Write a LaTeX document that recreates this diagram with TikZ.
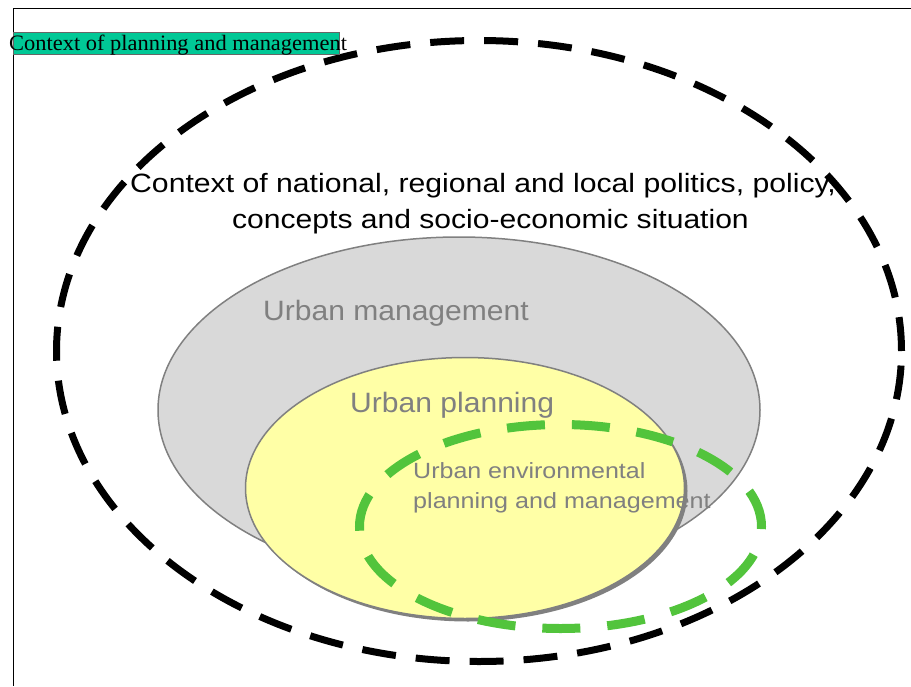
\documentclass[tikz,border=0pt]{standalone}
\usepackage{fontspec}
\setmainfont{Liberation Serif}
\setsansfont{Liberation Sans}
\usetikzlibrary{shapes.geometric, shadows, positioning}
\definecolor{mgmtgray}{RGB}{217,217,217}
\definecolor{rimgray}{RGB}{128,128,128}
\definecolor{planyellow}{RGB}{255,255,166}
\definecolor{envgreen}{RGB}{82,196,60}
\definecolor{labelteal}{RGB}{0,200,150}
\newcommand{\widen}[2]{\scalebox{#1}[1]{#2}}
\tikzset{
  zone/.style={ellipse, draw=rimgray, line width=1.5pt, inner sep=0pt},
  ctxline/.style={draw=black, line width=7pt, dash pattern=on 34pt off 20pt},
  envline/.style={draw=envgreen, line width=9pt, dash pattern=on 38pt off 27pt},
  caption/.style={font=\sffamily\fontsize{26.5}{30}\selectfont, inner sep=0pt, anchor=base west},
  graycap/.style={caption, text=rimgray, font=\sffamily\fontsize{28}{32}\selectfont},
  smallcap/.style={caption, text=rimgray, font=\sffamily\fontsize{22}{26}\selectfont},
}

\begin{document}
\begin{tikzpicture}[x=1pt,y=-1pt]
  \useasboundingbox (0,0) rectangle (911,686);
  % page frame
  \draw[line width=1pt] (911,8) -| (13,686);

  % nested zones
  \node[zone, ctxline, minimum width=845, minimum height=621] (ctx) at (479,351) {};
  \node[zone, fill=mgmtgray, minimum width=602, minimum height=346] (mgmt) at (459,410) {};
  \node[zone, fill=planyellow, minimum width=439, minimum height=261,
        drop shadow={shadow xshift=3pt, shadow yshift=-3pt, fill=black!50, opacity=1}] (plan) at (465,488) {};
  \node[zone, envline, minimum width=402, minimum height=204] (env) at (560.5,526.5) {};

  % labels
  \node[fill=labelteal, draw=black!60, line width=0.5pt, minimum width=326, minimum height=22, inner sep=0pt, anchor=north west] (tagbox) at (13,32) {};
  \node[font=\fontsize{22}{24}\selectfont, inner sep=0pt, anchor=base west] (tag) at (9,50) {\widen{1.02}{Context of planning and management}};
  \node[caption] (ctxa) at (130,192) {\widen{1.139}{Context of national, regional and local politics, policy,}};
  \node[caption] (ctxb) at (232,228) {\widen{1.135}{concepts and socio-economic situation}};
  \node[graycap] (mgmtlbl) at (263,320) {\widen{1.073}{Urban management}};
  \node[graycap] (planlbl) at (350,412) {\widen{1.074}{Urban planning}};
  \node[smallcap] (enva) at (413,478) {\widen{1.137}{Urban environmental}};
  \node[smallcap] (envb) at (413,508) {\widen{1.142}{planning and management}};
\end{tikzpicture}
\end{document}
